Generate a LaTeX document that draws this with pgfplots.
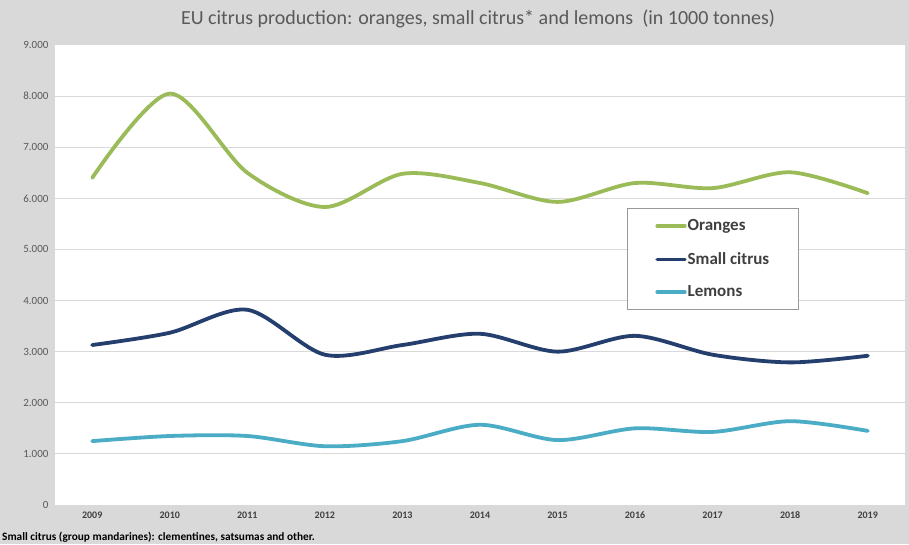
\documentclass[border=0pt]{standalone}
\usepackage{pgfplots}
\pgfplotsset{compat=1.18}
\usepackage{fontspec}
\setmainfont{Carlito}
\definecolor{bgc}{HTML}{D9D9D9}
\definecolor{gridc}{HTML}{D9D9D9}
\definecolor{orangec}{HTML}{9BBB59}
\definecolor{smallc}{HTML}{243F6E}
\definecolor{lemonc}{HTML}{4BACC6}
\definecolor{txtc}{HTML}{595959}
\definecolor{ticktc}{HTML}{404040}
\begin{document}
\begin{tikzpicture}
\fill[bgc] (0,0) rectangle (909pt,544pt);
\begin{axis}[
  at={(55pt,39pt)}, anchor=south west,
  scale only axis, width=850pt, height=460pt,
  xmin=2008.52, xmax=2019.48, ymin=0, ymax=9000,
  axis background/.style={fill=white},
  axis line style={draw=none},
  major tick length=0pt,
  ymajorgrids, grid style={gridc, line width=1pt},
  xtick={2009,...,2019},
  xticklabels={2009,2010,2011,2012,2013,2014,2015,2016,2017,2018,2019},
  ytick={0,1000,...,9000},
  yticklabels={0,1.000,2.000,3.000,4.000,5.000,6.000,7.000,8.000,9.000},
  yticklabel style={font=\fontsize{11}{12}\selectfont, text=txtc, xshift=-3pt},
  xticklabel style={font=\fontsize{10}{11}\selectfont\bfseries, text=ticktc, yshift=-3pt},
  legend style={draw=gray!80, fill=white, at={(0.673,0.646)}, anchor=north west,
    inner xsep=28pt, inner ysep=9.5pt, row sep=16pt, line width=0.8pt,
    font=\fontsize{17}{19}\selectfont\bfseries, text=ticktc,
    nodes={inner xsep=1pt}},
  legend cell align=left,
  legend image code/.code={\draw[#1, line width=3.2pt] (0pt,0pt) -- (28pt,0pt);},
  every axis plot/.append style={line width=3.8pt, smooth, line cap=round},
]
\addplot[orangec] coordinates {(2009,6400)(2010,8050)(2011,6500)(2012,5830)(2013,6480)(2014,6300)(2015,5930)(2016,6300)(2017,6200)(2018,6510)(2019,6100)};
\addlegendentry{Oranges}
\addplot[smallc] coordinates {(2009,3130)(2010,3370)(2011,3820)(2012,2940)(2013,3130)(2014,3350)(2015,3000)(2016,3310)(2017,2940)(2018,2790)(2019,2920)};
\addlegendentry{Small citrus}
\addplot[lemonc] coordinates {(2009,1250)(2010,1350)(2011,1350)(2012,1150)(2013,1250)(2014,1570)(2015,1270)(2016,1500)(2017,1430)(2018,1640)(2019,1450)};
\addlegendentry{Lemons}
\end{axis}
\node[text=txtc, font=\fontsize{20}{23}\selectfont] at (478pt,525pt) {EU citrus production: oranges, small citrus* and lemons\ \ (in 1000 tonnes)};
\node[anchor=south west, inner sep=0pt, font=\fontsize{11.3}{13}\selectfont\bfseries] at (2pt,1pt) {Small citrus (group mandarines): clementines, satsumas and other.};
\pgfresetboundingbox
\path (0,0) rectangle (909pt,544pt);
\end{tikzpicture}
\end{document}
